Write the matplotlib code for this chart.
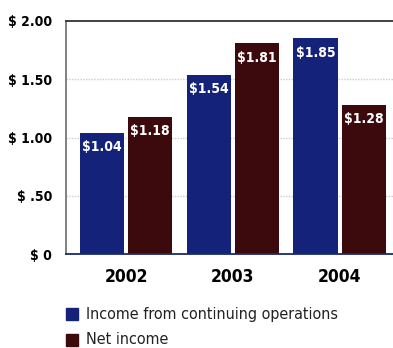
import matplotlib
matplotlib.use("Agg")
import matplotlib.pyplot as plt
import numpy as np
from matplotlib.patches import Rectangle

years = ["2002", "2003", "2004"]
continuing = [1.04, 1.54, 1.85]
net_income = [1.18, 1.81, 1.28]
series_names = ["Income from continuing operations", "Net income"]
y_ticks = [0, 0.5, 1.0, 1.5, 2.0]
y_tick_labels = ["$ 0", "$ .50", "$ 1.00", "$ 1.50", "$ 2.00"]

BLUE = "#15227a"
MAROON = "#3c0a0c"

plt.rcParams["font.family"] = ["DejaVu Sans"]
plt.rcParams["font.stretch"] = "condensed"

fig = plt.figure(figsize=(3.93, 3.48), dpi=100)
W, H = 393, 348
ax = fig.add_axes([66 / W, 1 - 254 / H, (393 - 66) / W, (254 - 21) / H])

x = np.arange(len(years))
width = 0.413
gap = 0.038
off = (width + gap) / 2
b1 = ax.bar(x - off, continuing, width, color=BLUE, zorder=2)
b2 = ax.bar(x + off, net_income, width, color=MAROON, zorder=2)

for bars, vals in ((b1, continuing), (b2, net_income)):
    for rect, v in zip(bars, vals):
        ax.text(rect.get_x() + rect.get_width() / 2, v - 0.125, f"${v:.2f}",
                ha="center", va="center", color="white", fontsize=10,
                fontweight="bold", zorder=3)

ax.set_xlim(-0.562, 2.5)
ax.set_ylim(0, 2.0)
ax.set_yticks(y_ticks)
ax.set_yticklabels(y_tick_labels, fontsize=10, fontweight="bold")
ax.set_xticks(x)
ax.set_xticklabels(years, fontsize=12.5, fontweight="bold")
ax.tick_params(axis="both", length=0)
ax.tick_params(axis="y", pad=10)
ax.tick_params(axis="x", pad=10)

for v in [0.5, 1.0, 1.5]:
    ax.axhline(v, color="#cccccc", lw=1, ls=(0, (1, 1)), zorder=1)

ax.spines["right"].set_visible(False)
ax.spines["top"].set_color("#333333")
ax.spines["top"].set_linewidth(1.3)
ax.spines["left"].set_color("#777777")
ax.spines["left"].set_linewidth(1.3)
ax.spines["bottom"].set_color("#1a2a6a")
ax.spines["bottom"].set_linewidth(1.3)

# legend
for i, (name, col) in enumerate(zip(series_names, [BLUE, MAROON])):
    yc = 314 + i * 26
    fig.patches.append(Rectangle((66 / W, 1 - (yc + 6) / H), 12 / W, 12 / H,
                                 transform=fig.transFigure, color=col))
    fig.text(86 / W, 1 - yc / H, name, ha="left", va="center",
             fontsize=11.5, color="#222222")

fig.savefig("out.png", dpi=100)
